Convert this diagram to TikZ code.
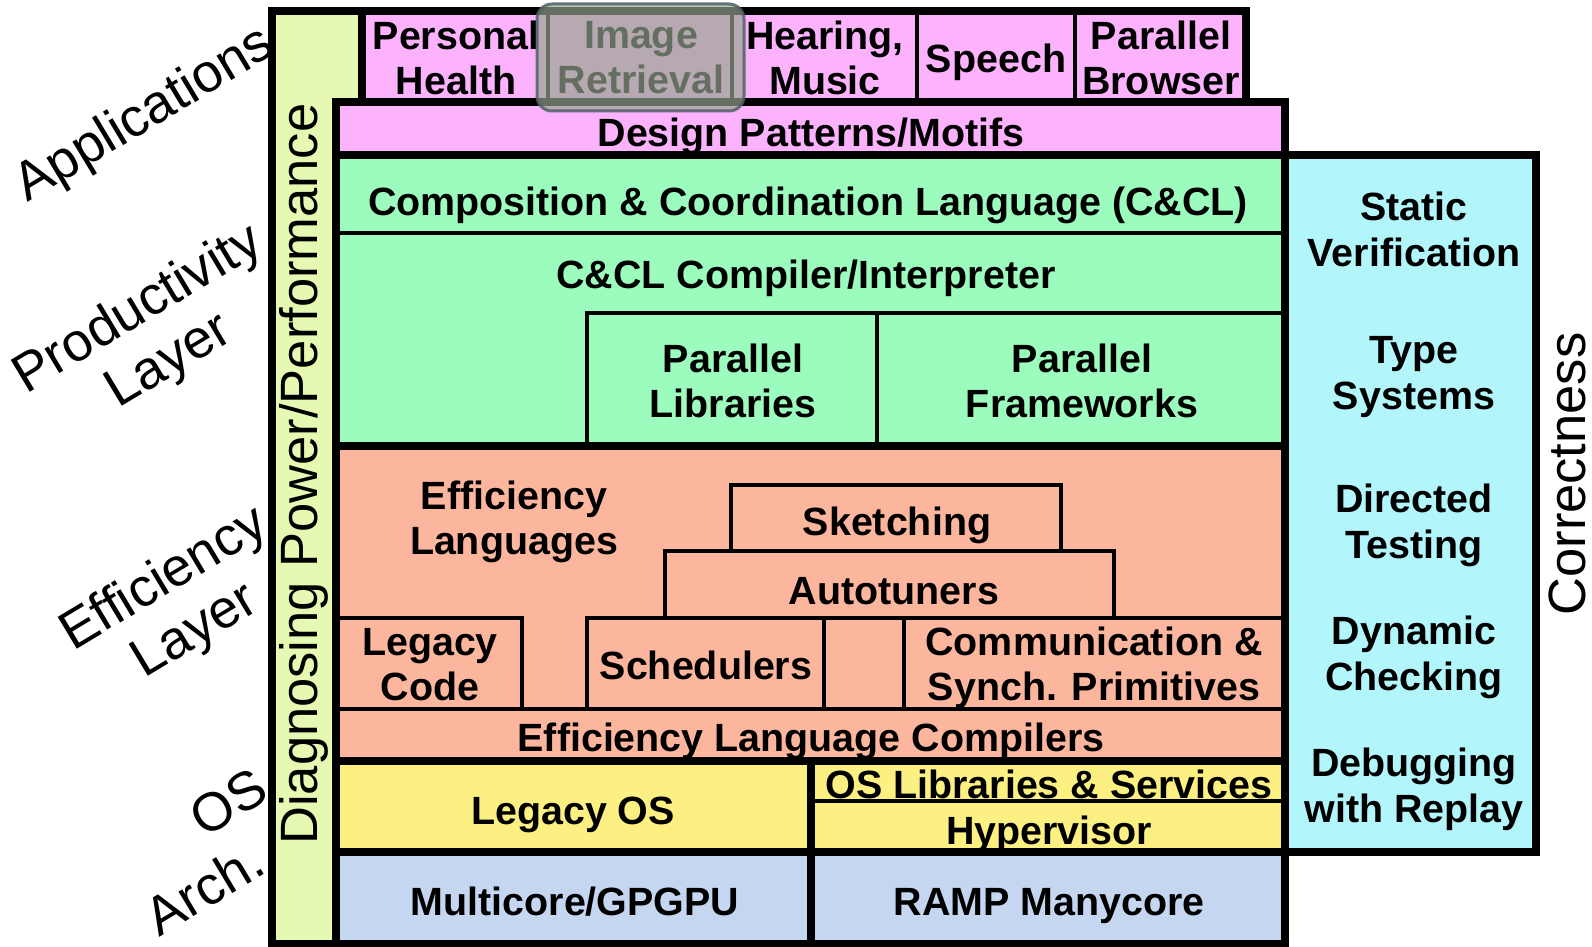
\documentclass[tikz,border=0pt]{standalone}
\usepackage{fontspec}
\setmainfont{Liberation Sans}

\definecolor{apppink}{RGB}{252,178,252}
\definecolor{prodgreen}{RGB}{156,252,190}
\definecolor{effsalmon}{RGB}{253,182,158}
\definecolor{osyellow}{RGB}{253,240,130}
\definecolor{archblue}{RGB}{196,214,240}
\definecolor{corrcyan}{RGB}{178,246,252}
\definecolor{diaglime}{RGB}{230,249,178}
\definecolor{hilitefill}{RGB}{150,165,143}
\definecolor{hiliteedge}{RGB}{80,96,102}

% rectangular cell given by the centre lines of its border: style, name, x1, y1, x2, y2
\newcommand\mkcell[6]{%
  \pgfmathsetmacro\cellw{#5-#3}\pgfmathsetmacro\cellh{#6-#4}%
  \node[#1, anchor=north west, minimum width=\cellw pt, minimum height=\cellh pt] (#2) at (#3,#4) {};}

\begin{document}
\begin{tikzpicture}[x=1pt, y=-1pt,
  thickcell/.style={draw=black, line width=8pt, inner sep=0pt, outer sep=0pt},
  thincell/.style={draw=black, line width=4pt, inner sep=0pt, outer sep=0pt},
  lbl/.style={font=\bfseries\fontsize{39.4}{45}\selectfont, align=center, inner sep=0pt},
  corrlbl/.style={font=\bfseries\fontsize{39.4}{46}\selectfont, align=center, inner sep=0pt},
  side/.style={font=\fontsize{54}{60}\selectfont, align=center, inner sep=0pt, rotate=31},
  vert/.style={font=\fontsize{52.5}{60}\selectfont, inner sep=0pt, rotate=90},
  hilite/.style={fill=hilitefill, fill opacity=0.68, draw=hiliteedge, draw opacity=0.85,
                 line width=3pt, rounded corners=15pt, inner sep=0pt}]
\useasboundingbox (0,0) rectangle (1592,947);

% layer bands
\mkcell{thickcell, fill=diaglime}{diag}{272}{11}{362}{944}
\mkcell{thickcell, fill=apppink}{apps}{362}{11}{1246}{102}
\mkcell{thickcell, fill=apppink}{dp}{336}{102}{1285}{155}
\mkcell{thickcell, fill=prodgreen}{prod}{336}{155}{1285}{446}
\mkcell{thickcell, fill=effsalmon}{eff}{336}{446}{1285}{761}
\mkcell{thickcell, fill=osyellow}{os}{336}{761}{1285}{852}
\mkcell{thickcell, fill=archblue}{arch}{336}{852}{1285}{944}
\mkcell{thickcell, fill=corrcyan}{corr}{1285}{155}{1536}{852}

% applications
\mkcell{thincell}{c-personal}{362}{11}{548}{102}
\mkcell{thincell}{c-image}{548}{11}{732}{102}
\mkcell{thincell}{c-hearing}{732}{11}{917}{102}
\mkcell{thincell}{c-speech}{917}{11}{1075}{102}
\mkcell{thincell}{c-browser}{1075}{11}{1246}{102}

% productivity layer
\mkcell{thincell}{c-ccl}{336}{155}{1285}{233}
\mkcell{thincell}{c-libs}{587}{313}{877}{446}
\mkcell{thincell}{c-frames}{877}{313}{1285}{446}

% efficiency layer
\mkcell{thincell}{c-sketch}{731}{485}{1061}{551}
\mkcell{thincell}{c-auto}{665}{551}{1114}{618}
\mkcell{thincell}{c-legacy}{336}{618}{522}{709}
\mkcell{thincell}{c-sched}{587}{618}{824}{709}
\mkcell{thincell}{c-comm}{904}{618}{1285}{709}
\mkcell{thincell}{c-elc}{336}{709}{1285}{761}

% OS and architecture
\mkcell{thickcell}{c-legos}{336}{761}{811}{852}
\mkcell{thincell}{c-oslib}{811}{761}{1285}{801}
\mkcell{thincell}{c-hyper}{811}{801}{1285}{852}
\mkcell{thickcell}{c-multi}{336}{852}{811}{944}
\mkcell{thickcell}{c-ramp}{811}{852}{1285}{944}

% labels
\node[lbl] (t-personal) at (456,58) {Personal\\Health};
\node[lbl] (t-image) at (641,58) {Image\\Retrieval};
\node[lbl] (t-hearing) at (825,58) {Hearing,\\Music};
\node[lbl] (t-speech) at (996,62) {Speech};
\node[lbl] (t-browser) at (1161,58) {Parallel\\Browser};
\node[lbl] (t-dp) at (811,136) {Design Patterns/Motifs};
\node[lbl] (t-ccl) at (808,205) {Composition \& Coordination Language (C\&CL)};
\node[lbl] (t-compiler) at (806,278) {C\&CL Compiler/Interpreter};
\node[lbl] (t-libs) at (733,381) {Parallel\\Libraries};
\node[lbl] (t-frames) at (1082,381) {Parallel\\Frameworks};
\node[lbl] (t-efflang) at (514,522) {Efficiency\\Languages};
\node[lbl] (t-sketch) at (897,525) {Sketching};
\node[lbl] (t-auto) at (894,591) {Autotuners};
\node[lbl] (t-legacy) at (430,665) {Legacy\\Code};
\node[lbl] (t-sched) at (706,665) {Schedulers};
\node[lbl] (t-comm) at (1094,668) {Communication \&\\Synch. Primitives};
\node[lbl] (t-elc) at (811,741) {Efficiency Language Compilers};
\node[lbl] (t-legos) at (573,815) {Legacy OS};
\node[lbl] (t-oslib) at (1049,784) {OS Libraries \& Services};
\node[lbl] (t-hyper) at (1049,834) {Hypervisor};
\node[lbl] (t-multi) at (575,902) {Multicore/GPGPU};
\node[lbl] (t-ramp) at (1049,906) {RAMP Manycore};

% correctness column
\node[corrlbl] (t-static) at (1414,229) {Static\\Verification};
\node[corrlbl] (t-type) at (1414,377) {Type\\Systems};
\node[corrlbl] (t-directed) at (1414,525) {Directed\\Testing};
\node[corrlbl] (t-dynamic) at (1414,657) {Dynamic\\Checking};
\node[corrlbl] (t-debug) at (1414,789) {Debugging\\with Replay};

% highlight over the image retrieval application
\node[hilite, minimum width=207pt, minimum height=107pt] (hl) at (640.5,57.5) {};

% side captions
\node[vert] (l-diag) at (304,474) {Diagnosing Power/Performance};
\node[vert] (l-corr) at (1567,474) {Correctness};
\node[side] (l-app) at (145,116) {Applications};
\node[side] (l-prod) at (154,336) {Productivity\\Layer};
\node[side] (l-eff) at (180,606) {Efficiency\\Layer};
\node[side] (l-os) at (228,802) {OS};
\node[side] (l-arch) at (204,888) {Arch.};
\end{tikzpicture}
\end{document}
